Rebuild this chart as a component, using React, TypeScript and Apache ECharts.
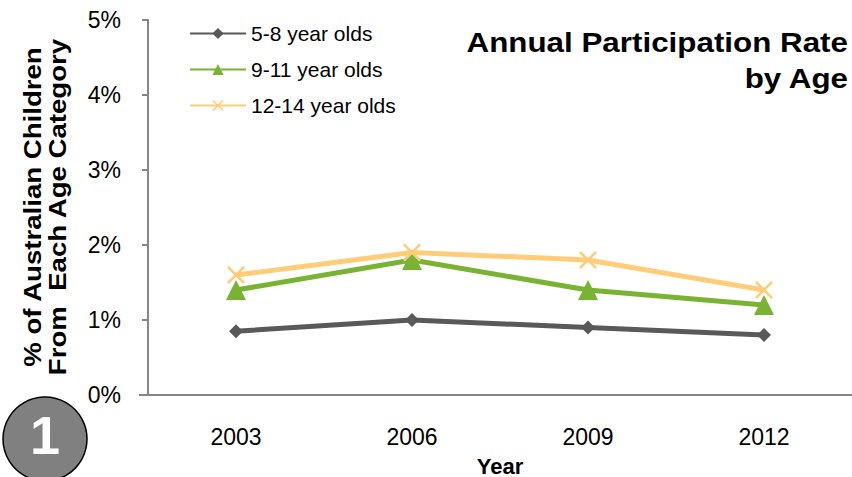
import React, { useEffect, useRef } from "react";
import * as echarts from "echarts";

const years = ["2003", "2006", "2009", "2012"];
const age5to8 = [0.85, 1.0, 0.9, 0.8];
const age9to11 = [1.4, 1.8, 1.4, 1.2];
const age12to14 = [1.6, 1.9, 1.8, 1.4];
const seriesNames = ["5-8 year olds", "9-11 year olds", "12-14 year olds"];

const FONT = "'Liberation Sans', Arial, sans-serif";
const crossPath =
  "path://M0,1 L1,0 L5,4 L9,0 L10,1 L6,5 L10,9 L9,10 L5,6 L1,10 L0,9 L4,5 Z";

export default function App() {
  const ref = useRef<HTMLDivElement>(null);
  useEffect(() => {
    if (!ref.current) return;
    const chart = echarts.init(ref.current, undefined, { renderer: "svg" });
    chart.setOption({
      animation: false,
      backgroundColor: "#ffffff",
      textStyle: { fontFamily: FONT },
      grid: {
        left: 148,
        right: 0,
        top: 20,
        bottom: 82,
        containLabel: false,
        outerBoundsMode: "none",
      },
      legend: {
        left: 184,
        top: 18,
        orient: "vertical",
        itemGap: 15,
        itemWidth: 56,
        itemHeight: 14,
        textStyle: { fontFamily: FONT, fontSize: 21, color: "#000" },
        data: seriesNames,
      },
      xAxis: {
        type: "category",
        data: years,
        boundaryGap: true,
        axisLine: { lineStyle: { color: "#868686", width: 2 } },
        axisTick: { show: false },
        axisLabel: { color: "#000", fontSize: 23, margin: 30, fontFamily: FONT },
        name: "Year",
        nameLocation: "middle",
        nameGap: 60,
        nameTextStyle: { color: "#000", fontSize: 22, fontWeight: "bold", fontFamily: FONT },
      },
      yAxis: {
        type: "value",
        min: 0,
        max: 5,
        interval: 1,
        splitLine: { show: false },
        axisLine: { show: true, lineStyle: { color: "#868686", width: 2 } },
        axisTick: { show: true, inside: false, length: 6, lineStyle: { color: "#868686", width: 2 } },
        axisLabel: { color: "#000", fontSize: 23, margin: 27, formatter: "{value}%", fontFamily: FONT },
      },
      graphic: [
        {
          type: "line",
          shape: { x1: 139, y1: 395, x2: 148, y2: 395 },
          style: { stroke: "#868686", lineWidth: 2 },
        },
        {
          type: "text",
          x: 45,
          y: 207,
          rotation: Math.PI / 2,
          scaleX: 1.15,
          style: {
            text: "% of Australian Children\nFrom  Each Age Category",
            font: `bold 24px ${FONT}`,
            fill: "#000",
            textAlign: "center",
            textVerticalAlign: "middle",
            lineHeight: 25,
          },
        },
        {
          type: "text",
          x: 848,
          y: 42,
          scaleX: 1.12,
          style: {
            text: "Annual Participation Rate",
            font: `bold 28px ${FONT}`,
            fill: "#000",
            textAlign: "right",
            textVerticalAlign: "middle",
          },
        },
        {
          type: "text",
          x: 848,
          y: 78,
          scaleX: 1.12,
          style: {
            text: "by Age",
            font: `bold 28px ${FONT}`,
            fill: "#000",
            textAlign: "right",
            textVerticalAlign: "middle",
          },
        },
        {
          type: "circle",
          shape: { cx: 45, cy: 439, r: 42 },
          style: { fill: "#808080", stroke: "#000", lineWidth: 1.5 },
        },
        {
          type: "text",
          x: 45,
          y: 435,
          style: {
            text: "1",
            font: `bold 54px ${FONT}`,
            fill: "#fff",
            textAlign: "center",
            textVerticalAlign: "middle",
          },
        },
      ],
      series: [
        {
          name: seriesNames[0],
          type: "line",
          data: age5to8,
          symbol: "diamond",
          symbolSize: 14,
          lineStyle: { color: "#595959", width: 5 },
          itemStyle: { color: "#595959" },
        },
        {
          name: seriesNames[1],
          type: "line",
          data: age9to11,
          symbol: "triangle",
          symbolSize: 20,
          lineStyle: { color: "#78B432", width: 5 },
          itemStyle: { color: "#78B432" },
        },
        {
          name: seriesNames[2],
          type: "line",
          data: age12to14,
          symbol: crossPath,
          symbolSize: 18,
          lineStyle: { color: "#FFCC77", width: 5 },
          itemStyle: { color: "#FFCC77" },
        },
      ],
    });
    return () => chart.dispose();
  }, []);
  return <div ref={ref} style={{ width: 852, height: 477, position: "absolute", left: 0, top: 0 }} />;
}
